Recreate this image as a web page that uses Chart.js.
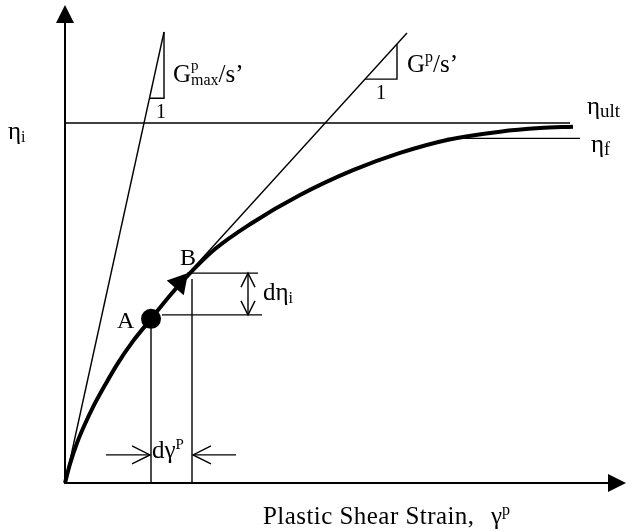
<!DOCTYPE html>
<html>
<head>
<meta charset="utf-8">
<script src="https://cdn.jsdelivr.net/npm/chart.js@4.4.1/dist/chart.umd.min.js"></script>
<style>
  html, body { margin: 0; padding: 0; background: #fff; }
  #wrap { width: 626px; height: 531px; position: relative; }
</style>
</head>
<body>
<div id="wrap"><canvas id="curve"></canvas></div>
<script>
// stress ratio vs plastic shear strain (eta normalised by eta_ult)
const strain = [0, 0.05, 0.12, 0.20, 0.28, 0.40, 0.52, 0.68, 0.86, 1.05, 1.25, 1.50, 1.85, 2.35, 2.88, 3.35, 3.82, 4.35, 4.75, 5.08];
const eta    = [0, 0.053, 0.111, 0.164, 0.211, 0.272, 0.329, 0.394, 0.456, 0.521, 0.583, 0.650, 0.719, 0.800, 0.869, 0.917, 0.953, 0.976, 0.986, 0.990];

const pointA = [0.86, 0.456];
const arrowHead = [1.145, 0.556];   // filled head on A -> B

const gmaxLine = [[0, 0], [0.99, 1.253]];
const gmaxTri = [[0.845, 1.069], [0.99, 1.069], [0.99, 1.253]];
const gpLine = [[1.22, 0.578], [3.42, 1.250]];
const gpTri = [[3.00, 1.122], [3.32, 1.122], [3.32, 1.219]];

const etaUlt = 1.0, etaF = 0.9575;
const ultLine = [[0, etaUlt], [5.05, etaUlt]];
const fLine = [[3.82, etaF], [5.15, etaF]];

const dropA = [[0.86, 0], [0.86, 0.456]];
const dropB = [[1.27, 0], [1.27, 0.567]];
const levelA = [[0.97, 0.467], [1.97, 0.467]];
const levelB = [[1.22, 0.583], [1.93, 0.583]];

const dEtaX = 1.83;
const dGammaY = 0.078;
const dGammaLeft = [0.41, 0.85];
const dGammaRight = [1.71, 1.28];

const xMax = 5.61, yMax = 1.328;

const serif = '"Liberation Serif", "Times New Roman", serif';
const pts = arr => arr.map(p => ({ x: p[0], y: p[1] }));

function thin(data) {
  return { data: pts(data), showLine: true, borderColor: '#000', borderWidth: 1.4, pointRadius: 0, fill: false };
}

function rich(ctx, x, y, parts) {
  for (const p of parts) {
    ctx.font = p.size + 'px ' + serif;
    ctx.fillText(p.t, x, y + (p.dy || 0));
    if (!p.stay) x += ctx.measureText(p.t).width;
  }
}

function chevron(ctx, tx, ty, dx, dy, len, half) {
  // open arrowhead with tip at (tx,ty) pointing along (dx,dy)
  const n = Math.hypot(dx, dy), ux = dx / n, uy = dy / n;
  ctx.beginPath();
  ctx.moveTo(tx - ux * len - uy * half, ty - uy * len + ux * half);
  ctx.lineTo(tx, ty);
  ctx.lineTo(tx - ux * len + uy * half, ty - uy * len - ux * half);
  ctx.stroke();
}

const sketch = {
  id: 'sketch',
  beforeDatasetsDraw(chart) {
    const { ctx, scales: { x, y } } = chart;
    const ox = x.getPixelForValue(0), oy = y.getPixelForValue(0);
    const ex = x.getPixelForValue(xMax), ey = y.getPixelForValue(yMax);
    ctx.save();
    ctx.strokeStyle = '#000';
    ctx.fillStyle = '#000';
    ctx.lineWidth = 2;
    ctx.beginPath();
    ctx.moveTo(ox, ey + 16);
    ctx.lineTo(ox, oy);
    ctx.lineTo(ex - 16, oy);
    ctx.stroke();
    ctx.beginPath();
    ctx.moveTo(ox, ey); ctx.lineTo(ox - 9, ey + 18); ctx.lineTo(ox + 9, ey + 18); ctx.closePath();
    ctx.fill();
    ctx.beginPath();
    ctx.moveTo(ex, oy); ctx.lineTo(ex - 18, oy - 9); ctx.lineTo(ex - 18, oy + 9); ctx.closePath();
    ctx.fill();
    ctx.restore();
  },
  afterDatasetsDraw(chart) {
    const { ctx, scales: { x, y } } = chart;
    const px = v => x.getPixelForValue(v), py = v => y.getPixelForValue(v);
    ctx.save();
    ctx.strokeStyle = '#000';
    ctx.fillStyle = '#000';
    ctx.lineWidth = 1.4;

    // d eta_i: double arrow between the two levels
    const ax = px(dEtaX), top = py(levelB[0][1]), bot = py(levelA[0][1]);
    ctx.beginPath(); ctx.moveTo(ax, top); ctx.lineTo(ax, bot); ctx.stroke();
    chevron(ctx, ax, top, 0, -1, 14, 7);
    chevron(ctx, ax, bot, 0, 1, 14, 7);

    // d gamma^p: two arrows pointing inward
    const gy = py(dGammaY);
    ctx.beginPath();
    ctx.moveTo(px(dGammaLeft[0]), gy); ctx.lineTo(px(dGammaLeft[1]), gy);
    ctx.moveTo(px(dGammaRight[0]), gy); ctx.lineTo(px(dGammaRight[1]), gy);
    ctx.stroke();
    chevron(ctx, px(dGammaLeft[1]), gy, 1, 0, 18, 9);
    chevron(ctx, px(dGammaRight[1]), gy, -1, 0, 18, 9);

    // labels
    ctx.textBaseline = 'alphabetic';
    ctx.textAlign = 'left';
    rich(ctx, 8, 139, [{ t: 'η', size: 25 }, { t: 'i', size: 16, dy: 3 }]);
    rich(ctx, 173, 82, [{ t: 'G', size: 25 }, { t: 'p', size: 15, dy: -12, stay: true }, { t: 'max', size: 16, dy: 3 }, { t: '/s’', size: 25 }]);
    rich(ctx, 407, 72, [{ t: 'G', size: 25 }, { t: 'p', size: 16, dy: -10 }, { t: '/s’', size: 25 }]);
    rich(ctx, 587, 114, [{ t: 'η', size: 25 }, { t: 'ult', size: 19, dy: 3 }]);
    rich(ctx, 591, 152, [{ t: 'η', size: 25 }, { t: 'f', size: 18, dy: 3 }]);
    rich(ctx, 263, 300, [{ t: 'dη', size: 25 }, { t: 'i', size: 16, dy: 3 }]);
    rich(ctx, 152, 458, [{ t: 'dγ', size: 25 }, { t: 'P', size: 15, dy: -9 }]);
    ctx.letterSpacing = '0.45px';
    rich(ctx, 263, 524, [{ t: 'Plastic Shear Strain,', size: 25 }]);
    ctx.letterSpacing = '0px';
    rich(ctx, 491, 524, [{ t: 'γ', size: 25 }, { t: 'p', size: 16, dy: -9 }]);
    ctx.font = '24px ' + serif;
    ctx.fillText('A', 117, 328);
    ctx.fillText('B', 180, 265);
    ctx.textAlign = 'center';
    ctx.font = '20px ' + serif;
    ctx.fillText('1', 161, 118);
    ctx.fillText('1', 381, 99);
    ctx.restore();
  }
};

new Chart(document.getElementById('curve'), {
  type: 'scatter',
  data: {
    datasets: [
      thin(gmaxLine), thin(gmaxTri), thin(gpLine), thin(gpTri),
      thin(ultLine), thin(fLine),
      thin(dropA), thin(dropB), thin(levelA), thin(levelB),
      {
        data: strain.map((v, i) => ({ x: v, y: eta[i] })),
        showLine: true, borderColor: '#000', borderWidth: 4, pointRadius: 0,
        cubicInterpolationMode: 'monotone', fill: false
      },
      {
        data: pts([pointA]), pointRadius: 10, pointBackgroundColor: '#000', pointBorderWidth: 0
      },
      {
        data: pts([arrowHead]), pointStyle: 'triangle', rotation: 41, pointRadius: 13,
        pointBackgroundColor: '#000', pointBorderWidth: 0
      }
    ]
  },
  options: {
    responsive: true,
    maintainAspectRatio: false,
    animation: false,
    events: [],
    layout: { autoPadding: false, padding: { left: 65, right: 0, top: 5, bottom: 48 } },
    scales: {
      x: { type: 'linear', min: 0, max: xMax, display: false },
      y: { type: 'linear', min: 0, max: yMax, display: false }
    },
    plugins: { legend: { display: false }, tooltip: { enabled: false } },
    datasets: { scatter: { clip: false } }
  },
  plugins: [sketch]
});
</script>
</body>
</html>
